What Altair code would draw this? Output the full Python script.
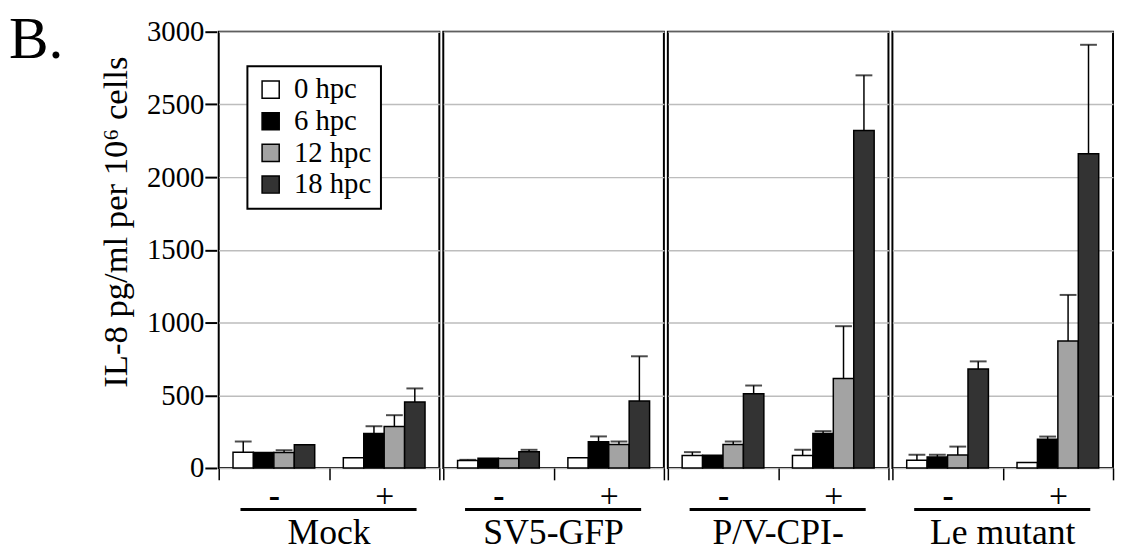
import altair as alt
import pandas as pd

panels = ["Mock", "SV5-GFP", "P/V-CPI-", "Le mutant"]
groups = ["-", "+"]
hpcs = ["0 hpc", "6 hpc", "12 hpc", "18 hpc"]

# IL-8 (pg/ml per 10^6 cells), order: 0, 6, 12, 18 hpc
mock_minus = [108, 106, 106, 160]
mock_plus = [70, 237, 285, 453]
sv5_minus = [52, 67, 65, 111]
sv5_plus = [70, 180, 162, 460]
pv_minus = [86, 88, 162, 510]
pv_plus = [86, 237, 615, 2320]
le_minus = [53, 76, 89, 680]
le_plus = [38, 198, 873, 2160]

# top of the error bar (None = no error bar drawn)
mock_minus_err = [182, None, 122, None]
mock_plus_err = [None, 287, 363, 547]
sv5_minus_err = [56, None, None, 125]
sv5_plus_err = [None, 217, 182, 768]
pv_minus_err = [109, None, 182, 567]
pv_plus_err = [125, 253, 975, 2700]
le_minus_err = [91, 91, 147, 733]
le_plus_err = [None, 216, 1190, 2910]

series = {
    ("Mock", "-"): (mock_minus, mock_minus_err),
    ("Mock", "+"): (mock_plus, mock_plus_err),
    ("SV5-GFP", "-"): (sv5_minus, sv5_minus_err),
    ("SV5-GFP", "+"): (sv5_plus, sv5_plus_err),
    ("P/V-CPI-", "-"): (pv_minus, pv_minus_err),
    ("P/V-CPI-", "+"): (pv_plus, pv_plus_err),
    ("Le mutant", "-"): (le_minus, le_minus_err),
    ("Le mutant", "+"): (le_plus, le_plus_err),
}

rows = []
for (p, g), (vals, errs) in series.items():
    for h, v, e in zip(hpcs, vals, errs):
        rows.append({"panel": p, "group": g, "hpc": h, "value": v, "err": e})
df = pd.DataFrame(rows)

W, H = 223, 441
FONT = "Liberation Serif"

fill_scale = alt.Scale(domain=hpcs, range=["#ffffff", "#000000", "#a3a3a3", "#333333"])

x_enc = alt.X(
    "group:N",
    sort=groups,
    scale=alt.Scale(paddingInner=0, paddingOuter=0),
    axis=alt.Axis(
        title=None,
        labelAngle=0,
        tickBand="extent",
        domain=False,
        tickSize=12,
        tickWidth=1.5,
        tickColor="black",
        labelFont=FONT,
        labelFontSize=34,
        labelColor="black",
        labelPadding=0,
        labelFontWeight=alt.condition("datum.value == '-'", alt.value("bold"), alt.value("normal")),
    ),
)
xo = alt.XOffset("hpc:N", sort=hpcs, scale=alt.Scale(paddingInner=0, paddingOuter=0.7))

y_axis = alt.Axis(
    values=[0, 500, 1000, 1500, 2000, 2500, 3000],
    format="d",
    title="IL-8 pg/ml per 10\u2076 cells",
    titleFont=FONT,
    titleFontSize=35,
    titleFontWeight="normal",
    titleColor="black",
    titleX=-84,
    titleY=192,
    labelFont=FONT,
    labelFontSize=29,
    labelColor="black",
    labelPadding=1,
    tickSize=12,
    tickWidth=2,
    tickColor="black",
    domain=False,
    grid=True,
    gridColor="#bdbdbd",
    gridWidth=1.5,
)
y_scale = alt.Scale(domain=[0, 3000], nice=False)

bars = alt.Chart().mark_bar(stroke="black", strokeWidth=1.5).encode(
    x=x_enc,
    xOffset=xo,
    y=alt.Y("value:Q", scale=y_scale, axis=y_axis),
    fill=alt.Fill(
        "hpc:N",
        scale=fill_scale,
        sort=hpcs,
        legend=alt.Legend(
            title=None,
            orient="none",
            legendX=29,
            legendY=35,
            symbolType="square",
            symbolSize=300,
            symbolStrokeColor="black",
            symbolStrokeWidth=1.5,
            labelFont=FONT,
            labelFontSize=29,
            labelColor="black",
            labelOffset=9,
            rowPadding=2,
            padding=9,
        ),
    ),
)

err_rule = alt.Chart().transform_filter("isValid(datum.err)").mark_rule(
    color="black", strokeWidth=1.5
).encode(
    x=x_enc,
    xOffset=xo,
    y=alt.Y("value:Q", scale=y_scale, axis=y_axis),
    y2="err:Q",
)

err_cap = alt.Chart().transform_filter("isValid(datum.err)").mark_tick(
    color="black", thickness=2, size=17
).encode(
    x=x_enc,
    xOffset=xo,
    y=alt.Y("err:Q", scale=y_scale, axis=y_axis),
)

first_row = "datum.hpc == '0 hpc' && datum.group == '-'"

underline = alt.Chart().transform_filter(first_row).mark_rule(
    color="black", strokeWidth=3
).encode(x=alt.value(22), x2=alt.value(200), y=alt.value(H + 42))

names = alt.Chart().transform_filter(first_row).mark_text(
    font=FONT, fontSize=36, color="black", baseline="middle", align="center"
).encode(text="panel:N", x=alt.value(W / 2), y=alt.value(H + 66))

layered = alt.layer(bars, err_rule, err_cap, underline, names, data=df).properties(
    width=W, height=H
)

chart = (
    layered.facet(
        column=alt.Column(
            "panel:N",
            sort=panels,
            header=alt.Header(title=None, labels=False),
        ),
        spacing=0,
    )
    .resolve_scale(x="independent", xOffset="independent")
    .properties(
        title=alt.TitleParams(
            "B.",
            anchor="start",
            frame="bounds",
            font=FONT,
            fontSize=60,
            fontWeight="normal",
            color="black",
            offset=-54,
            dx=-91,
        ),
        padding={"left": 0, "top": 0, "right": 0, "bottom": 0},
    )
    .configure_view(stroke="black", strokeWidth=2)
    .configure_legend(strokeColor="black", strokeWidth=2, fillColor="white")
)

chart.save("out.html", embed_options={"renderer": "svg", "actions": False})
